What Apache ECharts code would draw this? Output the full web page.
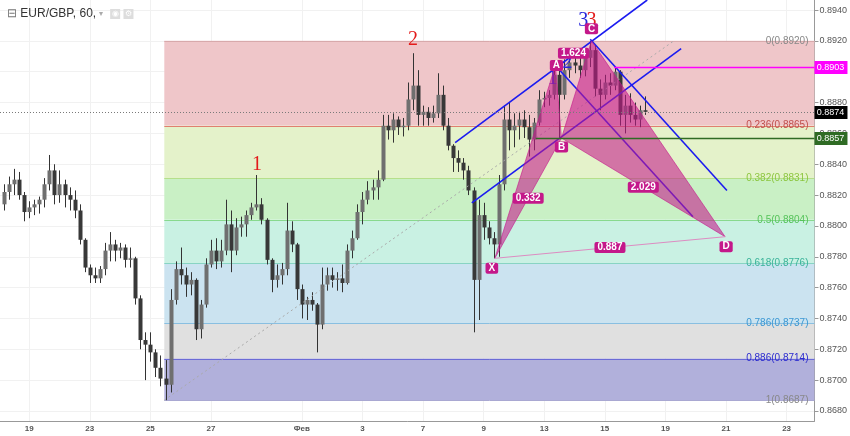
<!DOCTYPE html>
<html><head><meta charset="utf-8">
<script src="https://cdn.jsdelivr.net/npm/echarts@6/dist/echarts.min.js"></script>
<style>html,body{margin:0;padding:0;background:#fff}#c{width:850px;height:436px}</style>
</head><body><div id="c"></div>
<script>
// ---------- DATA ----------
const dateTickDays = [0, 2, 4, 6, 9, 11, 13, 15, 17, 19, 21, 23, 25];
const dateTickLabels = ['19', '23', '25', '27', 'Фев', '3', '7', '9', '13', '15', '19', '21', '23'];
const priceTicks = [0.868, 0.870, 0.872, 0.874, 0.876, 0.878, 0.880, 0.882, 0.884, 0.886, 0.888, 0.890, 0.892, 0.894];
const xMinDay = -0.963, xMaxDay = 25.92;
const yMinPrice = 0.86735, yMaxPrice = 0.89465;

// 4-hour candles [open, close, low, high], first candle at day -5/6
const candlesPerDay = 6;
const firstCandleIndex = -5;
const candles = [
[.8814,.8822,.8810,.8827],[.8822,.8827,.8817,.8832],[.8827,.8830,.8820,.8837],[.8830,.8820,.8817,.8835],[.8820,.8809,.8803,.8822],
[.8809,.8812,.8805,.8816],[.8812,.8814,.8807,.8817],[.8814,.8817,.8808,.8819],[.8817,.8827,.8812,.8831],[.8827,.8836,.8823,.8846],
[.8836,.8820,.8814,.8840],[.8820,.8827,.8815,.8836],[.8827,.8820,.8812,.8830],[.8820,.8817,.8810,.8825],[.8817,.8810,.8805,.8823],
[.8810,.8791,.8788,.8814],[.8791,.8773,.8770,.8792],[.8773,.8768,.8763,.8775],[.8768,.8766,.8763,.8773],[.8766,.8772,.8763,.8774],
[.8772,.8784,.8768,.8789],[.8784,.8788,.8777,.8796],[.8788,.8784,.8777,.8791],[.8784,.8786,.8779,.8789],[.8786,.8778,.8773,.8788],
[.8778,.8779,.8773,.8786],[.8779,.8753,.8749,.8780],[.8753,.8726,.8720,.8755],[.8726,.8723,.8700,.8731],[.8723,.8718,.8712,.8731],
[.8718,.8708,.8702,.8720],[.8708,.8701,.8696,.8716],[.8701,.8697,.8687,.8713],[.8697,.8752,.8692,.8759],[.8752,.8772,.8749,.8777],
[.8772,.8768,.8762,.8786],[.8768,.8762,.8754,.8773],[.8762,.8765,.8755,.8770],[.8765,.8733,.8726,.8766],[.8733,.8749,.8727,.8752],
[.8749,.8775,.8747,.8779],[.8775,.8784,.8773,.8791],[.8784,.8777,.8772,.8792],[.8777,.8784,.8773,.8791],[.8784,.8801,.8781,.8817],
[.8801,.8784,.8770,.8810],[.8784,.8799,.8781,.8805],[.8799,.8801,.8793,.8806],[.8801,.8807,.8793,.8810],[.8807,.8812,.8804,.8815],
[.8812,.8814,.8810,.8833],[.8814,.8804,.8801,.8818],[.8804,.8778,.8775,.8805],[.8778,.8765,.8757,.8779],[.8765,.8768,.8760,.8775],
[.8768,.8772,.8762,.8776],[.8772,.8797,.8768,.8815],[.8797,.8788,.8783,.8803],[.8788,.8759,.8752,.8789],[.8759,.8749,.8740,.8762],
[.8749,.8752,.8739,.8754],[.8752,.8749,.8745,.8757],[.8749,.8736,.8718,.8750],[.8736,.8762,.8733,.8773],[.8762,.8768,.8758,.8773],
[.8768,.8765,.8760,.8773],[.8765,.8766,.8758,.8770],[.8766,.8763,.8757,.8775],[.8763,.8784,.8762,.8788],[.8784,.8792,.8779,.8797],
[.8792,.8809,.8791,.8814],[.8809,.8817,.8801,.8822],[.8817,.8823,.8814,.8829],[.8823,.8825,.8817,.8830],[.8825,.8830,.8817,.8836],
[.8830,.8865,.8829,.8872],[.8865,.8862,.8856,.8872],[.8862,.8869,.8854,.8873],[.8869,.8864,.8859,.8871],[.8864,.8865,.8858,.8870],
[.8865,.8882,.8862,.8893],[.8882,.8891,.8875,.8912],[.8891,.8872,.8865,.8901],[.8872,.8874,.8865,.8878],[.8874,.8870,.8865,.8877],
[.8870,.8873,.8867,.8878],[.8873,.8885,.8870,.8899],[.8885,.8865,.8862,.8891],[.8865,.8852,.8849,.8870],[.8852,.8844,.8835,.8853],
[.8844,.8841,.8835,.8849],[.8841,.8836,.8830,.8844],[.8836,.8823,.8820,.8839],[.8823,.8765,.8731,.8825],[.8765,.8807,.8739,.8817],
[.8807,.8799,.8791,.8815],[.8799,.8792,.8788,.8803],[.8792,.8788,.8779,.8796],[.8788,.8827,.8780,.8833],[.8827,.8869,.8823,.8878],
[.8869,.8862,.8849,.8880],[.8862,.8865,.8851,.8873],[.8865,.8869,.8856,.8874],[.8869,.8864,.8857,.8875],[.8864,.8856,.8845,.8872],
[.8856,.8867,.8849,.8870],[.8867,.8882,.8865,.8888],[.8882,.8883,.8877,.8887],[.8883,.8885,.8878,.8888],[.8885,.8898,.8882,.8906],
[.8898,.8885,.8857,.8901],[.8885,.8901,.8882,.8908],[.8901,.8906,.8896,.8911],[.8906,.8904,.8899,.8912],[.8904,.8901,.8896,.8910],
[.8901,.8909,.8897,.8913],[.8909,.8914,.8903,.8920],[.8914,.8889,.8884,.8917],[.8889,.8885,.8875,.8895],[.8885,.8893,.8882,.8898],
[.8893,.8891,.8885,.8899],[.8891,.8900,.8888,.8903],[.8900,.8872,.8865,.8901],[.8872,.8878,.8860,.8885],[.8878,.8872,.8867,.8886],
[.8872,.8869,.8865,.8880],[.8869,.8875,.8864,.8878],[.8875,.8874,.8872,.8884]
];

// Fibonacci retracement
const fibRatios = [0, 0.236, 0.382, 0.5, 0.618, 0.786, 0.886, 1];
const fibPrices = [0.8920, 0.8865, 0.8831, 0.8804, 0.8776, 0.8737, 0.8714, 0.8687];
const fibStartDay = 4.46;
const fibTrendEndDay = 21.28;

// XABCD pattern
const patternNames = ['X', 'A', 'B', 'C', 'D'];
const patternDays = [15.37, 17.37, 17.57, 18.56, 22.97];
const patternPrices = [0.8779, 0.8904, 0.8857, 0.8920, 0.8793];
const ratioLabels = ['0.332', '1.624', '2.029', '0.887'];

// channel / trend lines [[day, price], [day, price]]
const lineA = [[14.06, 0.8854], [20.40, 0.89465]];
const lineB = [[14.61, 0.8815], [21.52, 0.8915]];
const lineC = [[18.52, 0.8921], [23.03, 0.8823]];
const lineD = [[17.37, 0.8904], [21.91, 0.8806]];

// horizontal price lines
const priceLinePrices = [0.8903, 0.8857, 0.8874];
const priceLineStartDays = [19.31, 16.72, -0.963];

// wave labels
const waveTexts = ['1', '2', '3', '1', '2', '3'];
const waveDays = [7.52, 12.67, 18.56, 17.28, 17.77, 18.29];
const wavePrices = [0.88395, 0.89206, 0.89329, 0.88954, 0.89058, 0.89329];

// ---------- STYLES ----------
const FONT = '"Liberation Sans", Arial, sans-serif';
const fibZoneColors = ['#efc6c9', '#e4f2ca', '#c9f0c5', '#c9f1e3', '#cbe3f0', '#e0e0e0', '#b1b0db'];
const fibLineColors = ['#d8a9ab', '#e0806f', '#b6df8b', '#88d98e', '#88d4c3', '#89bfe1', '#6b6bd6', '#a9a8d2'];
const fibLabelColors = ['#888888', '#c0504d', '#8cc63f', '#55c35a', '#3ab39a', '#3a97d3', '#2b2bcf', '#888888'];
const waveColors = ['#e31b1b', '#e31b1b', '#e31b1b', '#2727dc', '#2727dc', '#2727dc'];
const priceLineColors = ['#ff00ff', '#2f6b24', '#7a7a7a'];
const priceTagColors = ['#ff00ff', '#2f6b24', '#000000'];
const PAT = '#c4188a';

const chart = echarts.init(document.getElementById('c'), null, {renderer: 'canvas'});

function tagText(t, x, y) {
  return {type: 'text', x: x, y: y, z2: 20, style: {text: t, fill: '#fff', font: 'bold 10px ' + FONT,
    align: 'center', verticalAlign: 'middle', backgroundColor: PAT, padding: [1, 3, 0, 3], borderRadius: 2}};
}

const blueLine = (d) => ({type: 'line', data: d, symbol: 'none', showSymbol: false, silent: true, z: 3,
  lineStyle: {color: '#1b1bf0', width: 1.6}});

chart.setOption({
  animation: false,
  title: {
    text: '{b|⊟} EUR/GBP, 60, {g|▾}  {ic|◉} {ic|⚙}', left: 2, top: 3,
    textStyle: {fontSize: 12, color: '#333', fontWeight: 'normal', fontFamily: FONT,
      rich: {b: {fontSize: 12, color: '#777'}, g: {fontSize: 8, color: '#aaa'},
        ic: {fontSize: 8, color: '#fff', backgroundColor: '#ddd', width: 10, height: 10, align: 'center'}}}
  },
  grid: {left: 0, right: 32, top: 0, bottom: 15},
  xAxis: {
    type: 'value', min: xMinDay, max: xMaxDay,
    axisLine: {show: true, onZero: false, lineStyle: {color: '#999'}},
    axisTick: {show: false, customValues: dateTickDays},
    axisLabel: {customValues: dateTickDays, color: '#555', fontSize: 8, fontWeight: 'bold', fontFamily: FONT, margin: 4,
      formatter: v => { const i = dateTickDays.findIndex(d => Math.abs(d - v) < 1e-6); return i >= 0 ? dateTickLabels[i] : ''; }},
    splitLine: {show: true, lineStyle: {color: '#f1f1f1'}}
  },
  yAxis: {
    type: 'value', position: 'right', min: yMinPrice, max: yMaxPrice, scale: true,
    axisLine: {show: true, onZero: false, lineStyle: {color: '#999'}},
    axisTick: {show: true, customValues: priceTicks, length: 4, lineStyle: {color: '#999'}},
    axisLabel: {customValues: priceTicks, formatter: v => v.toFixed(4), color: '#555', fontSize: 9, fontFamily: FONT, margin: 5},
    splitLine: {show: true, lineStyle: {color: '#f1f1f1'}}
  },
  series: [
    { // Fibonacci zones
      type: 'custom', z: 1, silent: true,
      data: fibPrices.map((p, i) => [fibStartDay, p, i]), encode: {x: 0, y: 1},
      renderItem: function (params, api) {
        const i = api.value(2), p = fibPrices[i];
        const cs = params.coordSys, right = cs.x + cs.width;
        const pt = api.coord([fibStartDay, p]);
        const ch = [];
        if (i < fibPrices.length - 1) {
          const pt2 = api.coord([fibStartDay, fibPrices[i + 1]]);
          ch.push({type: 'rect', shape: {x: pt[0], y: pt[1], width: right - pt[0], height: pt2[1] - pt[1]}, style: {fill: fibZoneColors[i]}});
        }
        const yy = Math.round(pt[1]) + 0.5;
        ch.push({type: 'line', shape: {x1: pt[0], y1: yy, x2: right, y2: yy}, style: {stroke: fibLineColors[i], lineWidth: 1}});
        ch.push({type: 'text', x: right - 6, y: pt[1], style: {text: fibRatios[i] + '(' + p.toFixed(4) + ')',
          fill: fibLabelColors[i], font: '10px ' + FONT, align: 'right', verticalAlign: 'middle'}});
        return {type: 'group', children: ch};
      }
    },
    { // Fib trend (dotted)
      type: 'line', z: 2, silent: true, symbol: 'none', showSymbol: false,
      data: [[fibStartDay, fibPrices[fibPrices.length - 1]], [fibTrendEndDay, fibPrices[0]]],
      lineStyle: {color: '#aaa', width: 1, type: [2, 3]}
    },
    { // candles
      type: 'custom', z: 2, silent: true,
      data: candles.map((c, i) => [(i + firstCandleIndex) / candlesPerDay, c[0], c[1], c[2], c[3]]),
      encode: {x: 0, y: [1, 2, 3, 4]},
      renderItem: function (params, api) {
        const x = api.value(0), o = api.value(1), c = api.value(2), l = api.value(3), h = api.value(4);
        const pO = api.coord([x, o]), pC = api.coord([x, c]), pL = api.coord([x, l]), pH = api.coord([x, h]);
        const cx = Math.round(pO[0]) + 0.5;
        const top = Math.min(pO[1], pC[1]), ht = Math.max(1, Math.abs(pO[1] - pC[1]));
        return {type: 'group', children: [
          {type: 'line', shape: {x1: cx, y1: pH[1], x2: cx, y2: pL[1]}, style: {stroke: '#333', lineWidth: 1}},
          {type: 'rect', shape: {x: cx - 2, y: top, width: 4, height: ht},
            style: {fill: c >= o ? '#6f6f6f' : '#383838'}}
        ]};
      }
    },
    blueLine(lineA), blueLine(lineB), blueLine(lineC), blueLine(lineD),
    { // wave labels
      type: 'custom', z: 5, silent: true,
      data: waveTexts.map((t, i) => [waveDays[i], wavePrices[i], i]), encode: {x: 0, y: 1},
      renderItem: function (params, api) {
        const i = api.value(2), pt = api.coord([api.value(0), api.value(1)]);
        return {type: 'text', x: pt[0], y: pt[1], style: {text: waveTexts[i], fill: waveColors[i],
          font: '20px "Liberation Serif", "DejaVu Serif", serif', align: 'center', verticalAlign: 'middle'}};
      }
    },
    { // XABCD pattern
      type: 'custom', z: 6, silent: true,
      data: [[patternDays[0], patternPrices[0]]], encode: {x: 0, y: 1},
      renderItem: function (params, api) {
        const P = patternDays.map((d, i) => api.coord([d, patternPrices[i]]));
        const X = P[0], A = P[1], B = P[2], C = P[3], D = P[4];
        const ch = [];
        ch.push({type: 'polygon', shape: {points: [X, A, B]}, style: {fill: 'rgba(196,24,138,0.58)', stroke: 'rgba(196,24,138,0.6)', lineWidth: 1}});
        ch.push({type: 'polygon', shape: {points: [B, C, D]}, style: {fill: 'rgba(196,24,138,0.58)', stroke: 'rgba(196,24,138,0.6)', lineWidth: 1}});
        ch.push({type: 'line', shape: {x1: X[0], y1: X[1], x2: D[0], y2: D[1]}, style: {stroke: '#dd8cc2', lineWidth: 1}});
        const pairs = [[X, B], [A, C], [B, D], [X, D]];
        ratioLabels.forEach((t, i) => {
          const m0 = pairs[i][0], m1 = pairs[i][1];
          ch.push(tagText(t, (m0[0] + m1[0]) / 2, (m0[1] + m1[1]) / 2));
        });
        const offs = [[-3, 10], [1, 0], [0, 9], [0, -12], [1, 10]];
        patternNames.forEach((n, i) => ch.push(tagText(n, P[i][0] + offs[i][0], P[i][1] + offs[i][1])));
        return {type: 'group', children: ch};
      }
    },
    { // horizontal price lines with axis tags
      type: 'custom', z: 7, silent: true,
      data: priceLinePrices.map((p, i) => [priceLineStartDays[i], p, i]), encode: {x: 0, y: 1},
      renderItem: function (params, api) {
        const i = api.value(2), p = api.value(1);
        const cs = params.coordSys, right = cs.x + cs.width;
        const pt = api.coord([api.value(0), p]);
        const yy = Math.round(pt[1]) + 0.5;
        const dashed = i === 2;
        return {type: 'group', children: [
          {type: 'line', shape: {x1: pt[0], y1: yy, x2: right, y2: yy},
            style: {stroke: priceLineColors[i], lineWidth: dashed ? 1 : 1.5, lineDash: dashed ? [1, 2] : null}},
          {type: 'rect', shape: {x: right, y: yy - 6.5, width: 33, height: 13}, style: {fill: priceTagColors[i]}},
          {type: 'text', x: right + 16, y: yy, style: {text: p.toFixed(4), fill: '#fff', font: '9px ' + FONT,
            align: 'center', verticalAlign: 'middle'}}
        ]};
      }
    }
  ]
});
</script>
</body></html>
